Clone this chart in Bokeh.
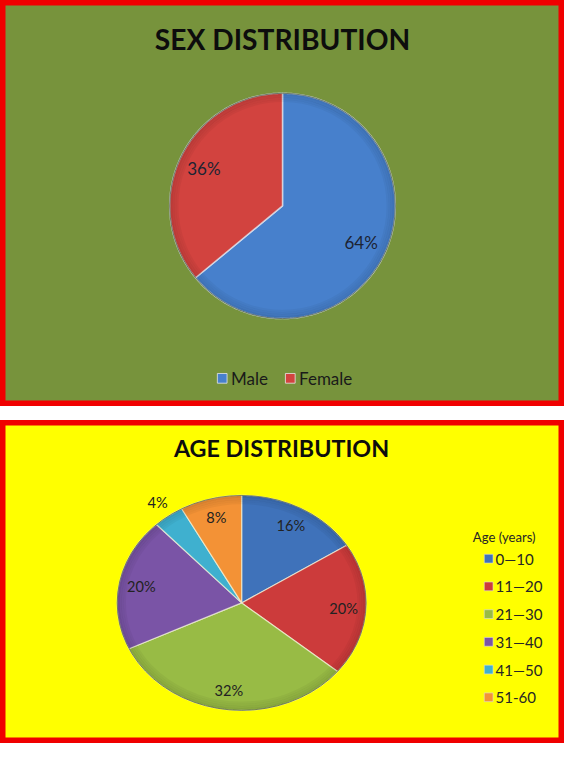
import numpy as np
from bokeh.plotting import figure
from bokeh.models import Range1d
from bokeh.layouts import column
from bokeh.embed import file_html
from bokeh.resources import INLINE
from bokeh.core.properties import value

# ---------------- data ----------------
sex_title = "SEX DISTRIBUTION"
sex_categories = ["Male", "Female"]
sex_values = [64, 36]
sex_colors = ["#4780cc", "#d2433f"]

age_title = "AGE DISTRIBUTION"
age_legend_title = "Age (years)"
age_categories = ["0\u201410", "11\u201420", "21\u201430", "31\u201440", "41\u201450", "51-60"]
age_values = [16, 20, 32, 20, 4, 8]
age_colors = ["#3f72ba", "#cc3b3b", "#98bb45", "#7a54a6", "#3fb0cf", "#f39236"]

# ---------------- layout helpers ----------------
W = 564
S = W / 580.0
FONT = value("Lato")


def px(v):
    return f"{v * S:.1f}px"


def pie_geometry(vals, cx, cy, rx, ry):
    total = float(sum(vals))
    xs, ys, mids = [], [], []
    start = 0.0
    for v in vals:
        a0 = start / total * 2 * np.pi
        a1 = (start + v) / total * 2 * np.pi
        t = np.linspace(a0, a1, max(int(v * 4), 10))
        xs.append([cx] + list(cx + rx * np.sin(t)))
        ys.append([cy] + list(cy - ry * np.cos(t)))
        mids.append((a0 + a1) / 2)
        start += v
    return xs, ys, mids


def rim(p, cx, cy, rx, ry):
    # darker bevel toward the outer edge of the pie
    for k, a in enumerate([0.10, 0.08, 0.06, 0.04]):
        d = 1.2 + k * 2.2
        p.ellipse(x=[cx], y=[cy], width=[2 * (rx - d)], height=[2 * (ry - d)],
                  fill_alpha=0, line_color="#000000", line_alpha=a, line_width=2.4)
    p.ellipse(x=[cx], y=[cy], width=[2 * rx], height=[2 * ry],
              fill_alpha=0, line_color="#2b3a20", line_alpha=0.55, line_width=1)


def make_fig(top, bottom, bg):
    p = figure(width=W, height=round((bottom - top) * S),
               x_range=Range1d(0, 580), y_range=Range1d(bottom, top),
               output_backend="svg", toolbar_location=None, min_border=0,
               x_axis_type=None, y_axis_type=None,
               background_fill_color=bg, border_fill_color=bg,
               outline_line_color="#f00000", outline_line_width=10)
    return p


# ---------------- top: sex distribution ----------------
p1 = make_fig(0, 418, "#77933c")
p1.text(x=[290], y=[40], text=[sex_title], text_font=FONT, text_font_style="bold",
        text_font_size=px(29), text_align="center", text_baseline="middle",
        text_color="#0d0d0d")

cx, cy, r = 290, 211.5, 116
xs, ys, mids = pie_geometry(sex_values, cx, cy, r, r)
p1.patches(xs, ys, fill_color=sex_colors, line_color="#dfe8f3", line_alpha=0.75, line_width=1.5)
rim(p1, cx, cy, r, r)
lab_x = [cx + 0.77 * r * np.sin(m) for m in mids]
lab_y = [cy - 0.77 * r * np.cos(m) for m in mids]
p1.text(x=lab_x, y=lab_y, text=[f"{v}%" for v in sex_values], text_font=FONT,
        text_font_size=px(17.5), text_align="center", text_baseline="middle",
        text_color="#1c2333")

leg_sq_x = [228, 298]
leg_y = 389
p1.scatter(x=leg_sq_x, y=[leg_y] * 2, marker="square", size=10 * S,
           fill_color=sex_colors, line_color="#e8e8e8", line_width=0.8)
p1.text(x=[x + 9 for x in leg_sq_x], y=[leg_y] * 2, text=sex_categories, text_font=FONT,
        text_font_size=px(17.5), text_align="left", text_baseline="middle",
        text_color="#1a1a1a")

# ---------------- bottom: age distribution ----------------
p2 = make_fig(432, 764, "#ffff00")
p2.text(x=[289], y=[460], text=[age_title], text_font=FONT, text_font_style="bold",
        text_font_size=px(24), text_align="center", text_baseline="middle",
        text_color="#0d0d0d")

cx2, cy2, rx2, ry2 = 248, 619.5, 128, 110.5
xs2, ys2, mids2 = pie_geometry(age_values, cx2, cy2, rx2, ry2)
p2.patches(xs2, ys2, fill_color=age_colors, line_color="#f4f4e0", line_alpha=0.7, line_width=1.2)
rim(p2, cx2, cy2, rx2, ry2)
fr = [1.15 if v < 5 else 0.82 for v in age_values]
lab_x2 = [cx2 + f * rx2 * np.sin(m) for f, m in zip(fr, mids2)]
lab_y2 = [cy2 - f * ry2 * np.cos(m) for f, m in zip(fr, mids2)]
p2.text(x=lab_x2, y=lab_y2, text=[f"{v}%" for v in age_values], text_font=FONT,
        text_font_size=px(15), text_align="center", text_baseline="middle",
        text_color="#222222")

p2.text(x=[518], y=[552], text=[age_legend_title], text_font=FONT,
        text_font_size=px(13.5), text_align="center", text_baseline="middle",
        text_color="#262626")
leg2_y = [574 + i * 28.5 for i in range(len(age_categories))]
p2.scatter(x=[502] * len(age_categories), y=leg2_y, marker="square", size=9 * S,
           fill_color=age_colors, line_color="#dddddd", line_width=0.6)
p2.text(x=[509] * len(age_categories), y=leg2_y, text=age_categories, text_font=FONT,
        text_font_size=px(15.5), text_align="left", text_baseline="middle",
        text_color="#262626")

layout = column(p1, p2, spacing=round(14 * S))
open("out.html", "w").write(file_html(layout, INLINE))
